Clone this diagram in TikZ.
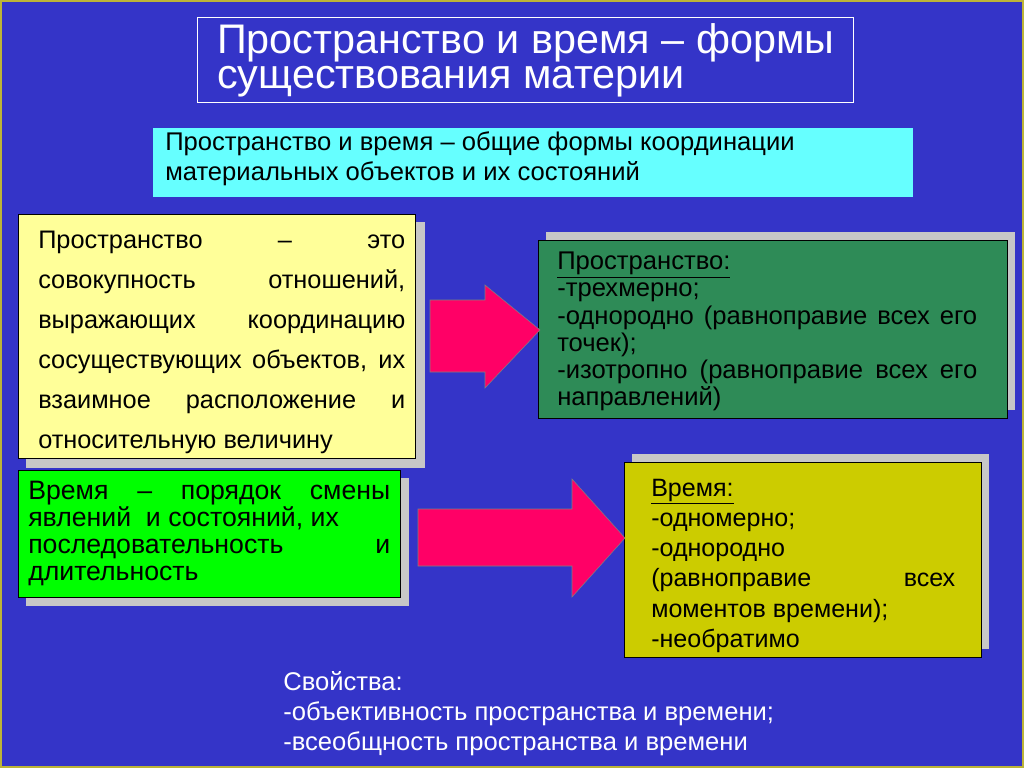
\documentclass[tikz,border=0pt]{standalone}
\usepackage{fontspec}
\setmainfont{Liberation Sans}
\hyphenpenalty=10000 \exhyphenpenalty=10000
\begin{document}
\begin{tikzpicture}[x=0.75pt,y=-0.75pt,
  shad/.style={fill=black!22,draw=none},
  box/.style={draw=black,line width=0.6pt},
  txt/.style={anchor=north west,inner sep=0pt,align=justify}]
\definecolor{bg}{HTML}{3434C8}
\definecolor{cy}{HTML}{66FFFF}
\definecolor{ly}{HTML}{FFFF99}
\definecolor{gr}{HTML}{00FF00}
\definecolor{dg}{HTML}{2E8B57}
\definecolor{ol}{HTML}{CCCC00}
\definecolor{pk}{HTML}{FF0066}
\useasboundingbox (0,0) rectangle (1024,768);
\fill[bg] (0,0) rectangle (1024,768);
\draw[yellow!70!black,line width=1.5pt] (1,1) rectangle (1023,767);
% title
\draw[white,line width=0.6pt] (197,17) rectangle (853,102);
\node[txt,text=white,font=\fontsize{31pt}{26.5pt}\selectfont,align=left] (title) at (217,23) {Пространство и время – формы\\существования материи};
% cyan
\fill[cy] (153,128) rectangle (913,197);
\node[txt,align=left,font=\fontsize{19.2pt}{23pt}\selectfont] (cyt) at (165,131) {Пространство и время – общие формы координации\\материальных объектов и их состояний};
% yellow
\fill[shad] (26,222) rectangle (425,468);
\fill[ly] (18,214) rectangle (415,458); \draw[box] (18,214) rectangle (415,458);
\node[txt,text width=367*0.75pt,font=\fontsize{19pt}{30pt}\selectfont] (ytx) at (38,231)
{Пространство – это\linebreak совокупность отношений,\linebreak выражающих координацию\linebreak сосуществующих объектов, их\linebreak взаимное расположение и\linebreak относительную величину};
% green
\fill[shad] (26,478) rectangle (409,606);
\fill[gr] (18,470) rectangle (400,597); \draw[box] (18,470) rectangle (400,597);
\node[txt,text width=362*0.75pt,font=\fontsize{20pt}{20.3pt}\selectfont] (gtx) at (28,481)
{Время – порядок смены\linebreak явлений\ \ и состояний, их\newline последовательность и\linebreak длительность};
% dark green
\fill[shad] (546,232) rectangle (1015,410);
\fill[dg] (538,240) rectangle (1007,418); \draw[box] (538,240) rectangle (1007,418);
\node[txt,text width=420*0.75pt,font=\fontsize{19.2pt}{20.3pt}\selectfont] (dtx) at (557,252)
{\underline{Пространство:}\newline -трехмерно;\newline -однородно (равноправие всех его\linebreak точек);\newline -изотропно (равноправие всех его\linebreak направлений)};
% olive
\fill[shad] (632,454) rectangle (989,649);
\fill[ol] (624,462) rectangle (981,657); \draw[box] (624,462) rectangle (981,657);
\node[txt,text width=304*0.75pt,font=\fontsize{18.8pt}{22.6pt}\selectfont] (otx) at (651,479)
{\underline{Время:}\newline -одномерно;\newline -однородно\newline (равноправие всех\linebreak моментов времени);\newline -необратимо};
% arrows
\draw[fill=pk,draw=black!50] (430,300) -- (485,300) -- (485,285) -- (540,330) -- (485,388) -- (485,372) -- (430,372) -- cycle;
\draw[fill=pk,draw=black!50] (418,509) -- (572,509) -- (572,479) -- (625,538) -- (572,597) -- (572,566) -- (418,566) -- cycle;
% bottom
\node[txt,text=white,align=left,font=\fontsize{19.2pt}{22.6pt}\selectfont] (bot) at (283,671)
{Свойства:\\-объективность пространства и времени;\\-всеобщность пространства и времени};
\end{tikzpicture}
\end{document}
